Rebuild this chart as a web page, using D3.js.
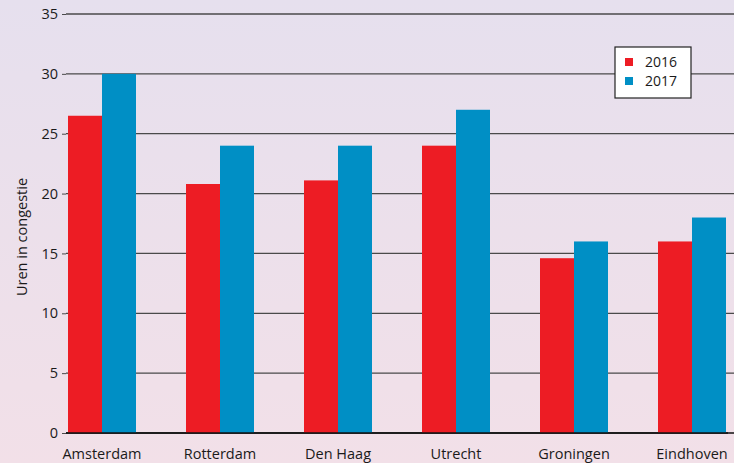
<!DOCTYPE html>
<html><head><meta charset="utf-8">
<script src="https://cdn.jsdelivr.net/npm/d3@7"></script>
<style>
html,body{margin:0;padding:0;overflow:hidden;}
svg{display:block;}
text{font-family:"Open Sans",sans-serif;fill:#1a1a1a;}
</style></head>
<body>
<svg id="c" width="734" height="463"></svg>
<script>
const categories = ["Amsterdam","Rotterdam","Den Haag","Utrecht","Groningen","Eindhoven"];
const seriesNames = ["2016","2017"];
const values2016 = [26.5, 20.8, 21.1, 24, 14.6, 16];
const values2017 = [30, 24, 24, 27, 16, 18];
const yTicks = [0,5,10,15,20,25,30,35];
const colors = ["#ed1c24","#008fc5"];

const W = 734, H = 463;
const FONT = "'Open Sans',sans-serif";
const svg = d3.select("#c");
const defs = svg.append("defs");
const grad = defs.append("linearGradient").attr("id","bg").attr("x1",0).attr("y1",0).attr("x2",0).attr("y2",1);
grad.append("stop").attr("offset","0%").attr("stop-color","#e6e0ee");
grad.append("stop").attr("offset","100%").attr("stop-color","#f2e0e8");
svg.append("rect").attr("width",W).attr("height",H).attr("fill","url(#bg)");

const x0 = d3.scaleBand().domain(categories).range([66,728]).paddingInner(50/118).paddingOuter(2/118);
const x1 = d3.scaleBand().domain(seriesNames).range([0,x0.bandwidth()]);
const y = d3.scaleLinear().domain([0,35]).range([433,14]);

// gridlines
svg.append("g").selectAll("line").data(yTicks).join("line")
  .attr("x1",66).attr("x2",W)
  .attr("y1",d=>y(d)).attr("y2",d=>y(d))
  .attr("stroke",d=>d===0?"#111":"#4a4a4a").attr("stroke-width",d=>d===0?1.6:1.3);

// y axis labels
const yAxis = d3.axisLeft(y).tickValues(yTicks).tickSize(4).tickPadding(4);
const ga = svg.append("g").attr("transform","translate(66,0)").call(yAxis);
ga.select(".domain").remove();
ga.selectAll(".tick line").attr("stroke","#4a4a4a");
ga.selectAll(".tick text").attr("font-size",14.5).attr("fill","#1a1a1a").attr("font-family",FONT);

// bars
const data = categories.map((c,i)=>({c, vals:[values2016[i],values2017[i]]}));
const groups = svg.append("g").selectAll("g").data(data).join("g")
  .attr("transform",d=>`translate(${x0(d.c)},0)`);
groups.selectAll("rect").data(d=>d.vals.map((v,j)=>({k:seriesNames[j],v,j}))).join("rect")
  .attr("x",d=>x1(d.k)).attr("width",x1.bandwidth())
  .attr("y",d=>y(d.v)).attr("height",d=>y(0)-y(d.v))
  .attr("fill",d=>colors[d.j]);

// zero line on top
svg.append("line").attr("x1",66).attr("x2",728).attr("y1",y(0)).attr("y2",y(0)).attr("stroke","#111").attr("stroke-width",1.6);

// x labels
const xAxis = d3.axisBottom(x0).tickSize(0).tickPadding(16);
const gx = svg.append("g").attr("transform",`translate(0,${y(0)})`).call(xAxis);
gx.select(".domain").remove();
gx.selectAll(".tick text").attr("font-size",14.5).attr("fill","#1a1a1a").attr("font-family",FONT);

// y title
svg.append("text").attr("transform","translate(27,237) rotate(-90)")
  .attr("text-anchor","middle").attr("font-size",14.5).attr("font-family",FONT).text("Uren in congestie");

// legend
const lg = svg.append("g").attr("transform","translate(615,47)");
lg.append("rect").attr("width",76).attr("height",51).attr("fill","#fff").attr("stroke","#222").attr("stroke-width",1.2);
seriesNames.forEach((s,i)=>{
  lg.append("rect").attr("x",10).attr("y",11+i*19).attr("width",8).attr("height",8).attr("fill",colors[i]);
  lg.append("text").attr("x",30).attr("y",20+i*19).attr("font-size",14).attr("font-family",FONT).text(s);
});
</script>
</body></html>
